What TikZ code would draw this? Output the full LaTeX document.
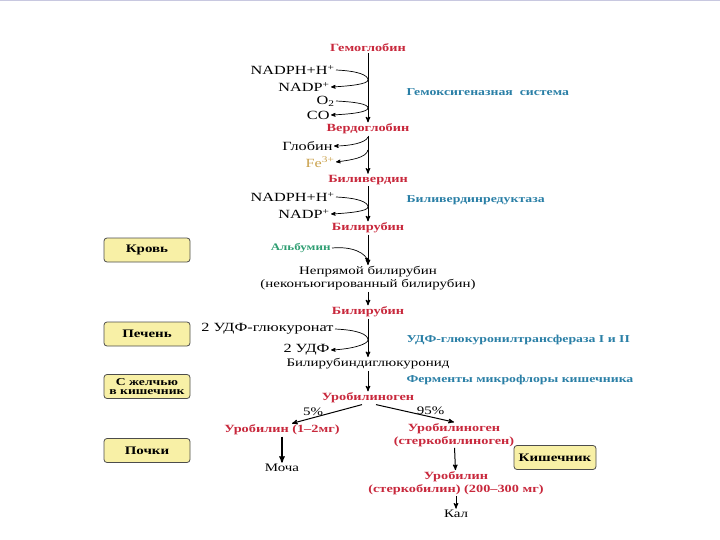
\documentclass[tikz,border=0pt]{standalone}
\usepackage{fontspec}
\setmainfont{Liberation Serif}[FakeStretch=1.3]
\usepackage{tikz}
\usetikzlibrary{arrows,positioning}
\definecolor{prodred}{HTML}{C8283C}
\definecolor{enzblue}{HTML}{2A7FA6}
\definecolor{albgreen}{HTML}{2E9E72}
\definecolor{ferrum}{HTML}{C9A04A}
\definecolor{boxfill}{HTML}{F8F0A6}
\definecolor{frame}{HTML}{C8C8E0}
\tikzstyle{product}=[text=prodred,font=\bfseries\fontsize{11}{12.5}\selectfont,inner sep=1pt,align=center]
\tikzstyle{compound}=[font=\fontsize{11.5}{13}\selectfont,inner sep=1pt,align=center]
\tikzstyle{cofactor}=[compound,anchor=east,font=\fontsize{12.5}{13}\selectfont]
\tikzstyle{share}=[font=\fontsize{11.5}{13}\selectfont,above,pos=0.7,inner sep=1.5pt]
\tikzstyle{enzyme}=[text=enzblue,font=\bfseries\fontsize{10.6}{12}\selectfont,anchor=west,inner sep=0pt]
\tikzstyle{organ}=[rectangle,rounded corners=3pt,thick,draw=black!70,fill=boxfill,
minimum width=86pt,minimum height=24pt,font=\bfseries\fontsize{11.5}{9.5}\selectfont,align=center,inner sep=0.5pt]
\tikzstyle{side}=[line width=0.7pt]

\begin{document}
\begin{tikzpicture}[x=1pt,y=-1pt,>=stealth',line width=1pt]
	\useasboundingbox (0,0) rectangle (720,540);
	\draw[frame,line width=1.2pt] (0,0.6) -- (720,0.6);

	\node[product] (hb) at (368,48) {Гемоглобин};
	\node[product, below of=hb, node distance=81pt] (vg) {Вердоглобин};
	\node[product, below of=vg, node distance=51pt] (bv) {Биливердин};
	\node[product, below of=bv, node distance=48pt] (br1) {Билирубин};
	\node[compound, below of=br1, node distance=50.5pt] (ubr) {Непрямой билирубин\\(неконъюгированный билирубин)};
	\node[product, below of=ubr, node distance=33.5pt] (br2) {Билирубин};
	\node[compound, below of=br2, node distance=52pt] (bdg) {Билирубиндиглюкуронид};
	\node[product, below of=bdg, node distance=34pt] (ubg) {Уробилиноген};
	\node[product] (ub) at (282,430) {Уробилин (1--2мг)};
	\node[compound] (moc) at (282,468) {Моча};
	\node[product] (sbg) at (454,435) {Уробилиноген\\(стеркобилиноген)};
	\node[product] (sb) at (456,483) {Уробилин\\(стеркобилин) (200--300 мг)};
	\node[compound] (kal) at (456,514) {Кал};

	\node[cofactor] (nadph1) at (336,70) {NADPH+H\textsuperscript{+}};
	\node[cofactor] (nadp1) at (331,87) {NADP\textsuperscript{+}};
	\node[cofactor] (o2) at (336,101) {O\textsubscript{2}};
	\node[cofactor] (co) at (331,115) {CO};
	\node[cofactor] (glob) at (334,146) {Глобин};
	\node[cofactor,text=ferrum] (fe) at (336,162) {Fe\textsuperscript{3+}};
	\node[cofactor] (nadph2) at (336,197) {NADPH+H\textsuperscript{+}};
	\node[cofactor] (nadp2) at (331,214) {NADP\textsuperscript{+}};
	\node[cofactor,text=albgreen,font=\bfseries\fontsize{10}{11}\selectfont] (alb) at (332,248) {Альбумин};
	\node[cofactor] (udfg) at (335,329) {2 УДФ-глюкуронат};
	\node[cofactor] (udf) at (331,350) {2 УДФ};

	\node[enzyme] (hox) at (406,92) {Гемоксигеназная\ \ система};
	\node[enzyme] (bvr) at (406,200) {Биливердинредуктаза};
	\node[enzyme] (ugt) at (406,340) {УДФ-глюкуронилтрансфераза I и II};
	\node[enzyme] (flora) at (406,380) {Ферменты микрофлоры кишечника};

	\node[organ] (blood) at (147,250) {Кровь};
	\node[organ] (liver) at (147,334) {Печень};
	\node[organ,font=\bfseries\fontsize{10.5}{9}\selectfont] (bile) at (147,386.5) {С желчью\\в кишечник};
	\node[organ] (kidney) at (147,450.5) {Почки};
	\node[organ,minimum width=82pt] (gut) at (555,457.5) {Кишечник};

	\coordinate (t1) at (368,80);
	\coordinate (t2) at (368,108);
	\coordinate (t3) at (368,137);
	\coordinate (t4) at (368,150);
	\coordinate (t5) at (368,207);
	\coordinate (t6) at (368,262);
	\coordinate (t7) at (368,340);

	\path[->] (hb) edge (vg);
	\path[->] (vg) edge (bv);
	\path[->] (bv) edge (br1);
	\path[->] (br1) edge (ubr);
	\path[->] (ubr) edge (br2);
	\path[->] (br2) edge (bdg);
	\path[->] (bdg) edge (ubg);
	\path[->] ([xshift=-6pt]ubg.south) edge node[share] {5\%} ([xshift=10pt]ub.north);
	\path[->] ([xshift=8pt]ubg.south) edge node[share] {95\%} (sbg.north);
	\path[->,line width=1.3pt] (ub) edge (moc);
	\path[->] (sbg) edge (sb);
	\path[->] (sb) edge (kal);

	\draw[side,->] (nadph1.east) .. controls +(22,1) and +(0,-5) .. (t1) .. controls +(0,4) and +(20,-1) .. (nadp1.east);
	\draw[side,->] (o2.east) .. controls +(20,1) and +(0,-4) .. (t2) .. controls +(0,4) and +(22,-1) .. (co.east);
	\draw[side,->] (t3) .. controls +(-2,6) and +(15,0) .. (glob.east);
	\draw[side,->] (t4) .. controls +(-2,8) and +(15,-2) .. (fe.east);
	\draw[side,->] (nadph2.east) .. controls +(22,1) and +(0,-5) .. (t5) .. controls +(0,4) and +(20,-1) .. (nadp2.east);
	\draw[side,->] (alb.east) .. controls +(22,-2) and +(-2,-8) .. (t6);
	\draw[side,->] (udfg.east) .. controls +(22,1) and +(0,-6) .. (t7) .. controls +(0,4) and +(22,-1) .. (udf.east);
\end{tikzpicture}
\end{document}
